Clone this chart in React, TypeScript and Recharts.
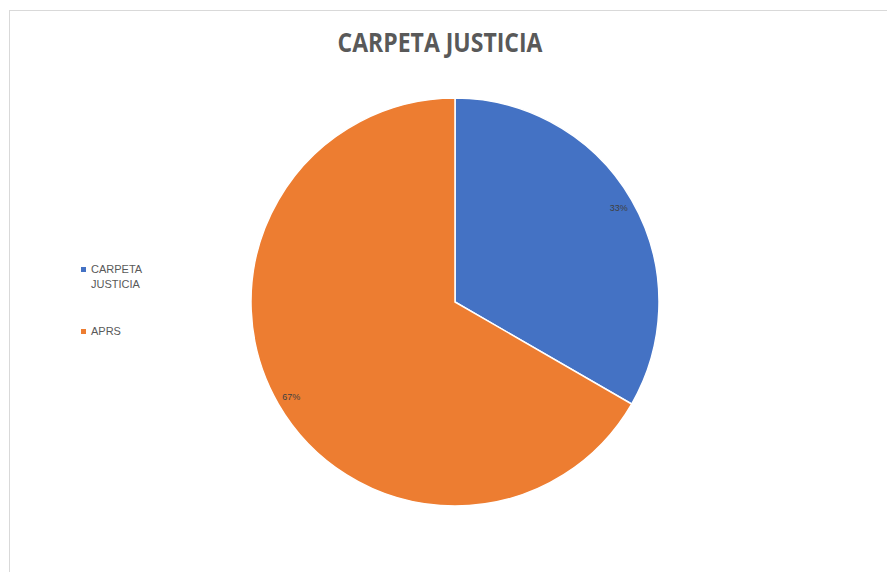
import React from "react";
import { PieChart, Pie, Cell } from "recharts";

const categories = ["CARPETA JUSTICIA", "APRS"];
const values = [1, 2];
const colors = ["#4472C4", "#ED7D31"];
const title = "CARPETA JUSTICIA";

const data = categories.map((name, i) => ({ name, value: values[i] }));
const RADIAN = Math.PI / 180;

const renderLabel = (props: any) => {
  const { cx, cy, midAngle, outerRadius, percent } = props;
  const r = outerRadius - 15;
  const x = cx + r * Math.cos(-midAngle * RADIAN);
  const y = cy + r * Math.sin(-midAngle * RADIAN);
  return (
    <text
      x={x}
      y={y}
      fill="#404040"
      fontSize={9}
      fontFamily="'Liberation Sans', Arial, sans-serif"
      textAnchor="middle"
      dominantBaseline="central"
    >
      {`${Math.round(percent * 100)}%`}
    </text>
  );
};

function ChartLegend() {
  return (
    <div
      style={{
        position: "absolute",
        left: 81,
        top: 262,
        fontFamily: "'Liberation Sans', Arial, sans-serif",
        fontSize: 11,
        color: "#595959",
        lineHeight: "15px",
      }}
    >
      {categories.map((name, i) => (
        <div key={name} style={{ display: "flex", alignItems: "flex-start", marginBottom: i === 0 ? 32 : 0 }}>
          <div style={{ width: 5, height: 5, background: colors[i], marginTop: 5, marginRight: 5, flexShrink: 0 }} />
          <div style={{ width: 56 }}>{name}</div>
        </div>
      ))}
    </div>
  );
}

export default function App() {
  return (
    <div style={{ position: "absolute", left: 0, top: 0, width: 887, height: 572, background: "#fff" }}>
      <div
        style={{
          position: "absolute",
          left: 9,
          top: 10,
          width: 887,
          height: 572,
          borderLeft: "1px solid #d9d9d9",
          borderTop: "1px solid #d9d9d9",
        }}
      />
      <div style={{ position: "absolute", left: 0, top: 0 }}>
        <PieChart width={887} height={572} margin={{ top: 0, right: 0, bottom: 0, left: 0 }}>
          <text
            x={440}
            y={52}
            textAnchor="middle"
            fill="#595959"
            fontSize={26}
            fontWeight="bold"
            fontFamily="'Open Sans', sans-serif"
            textLength={205}
            lengthAdjust="spacingAndGlyphs"
          >
            {title}
          </text>
          <Pie
            data={data}
            dataKey="value"
            nameKey="name"
            cx={455}
            cy={302}
            outerRadius={204}
            startAngle={90}
            endAngle={-270}
            stroke="#ffffff"
            strokeWidth={1.5}
            label={renderLabel}
            labelLine={false}
            isAnimationActive={false}
          >
            {data.map((d, i) => (
              <Cell key={d.name} fill={colors[i]} />
            ))}
          </Pie>
        </PieChart>
      </div>
      <ChartLegend />
    </div>
  );
}
